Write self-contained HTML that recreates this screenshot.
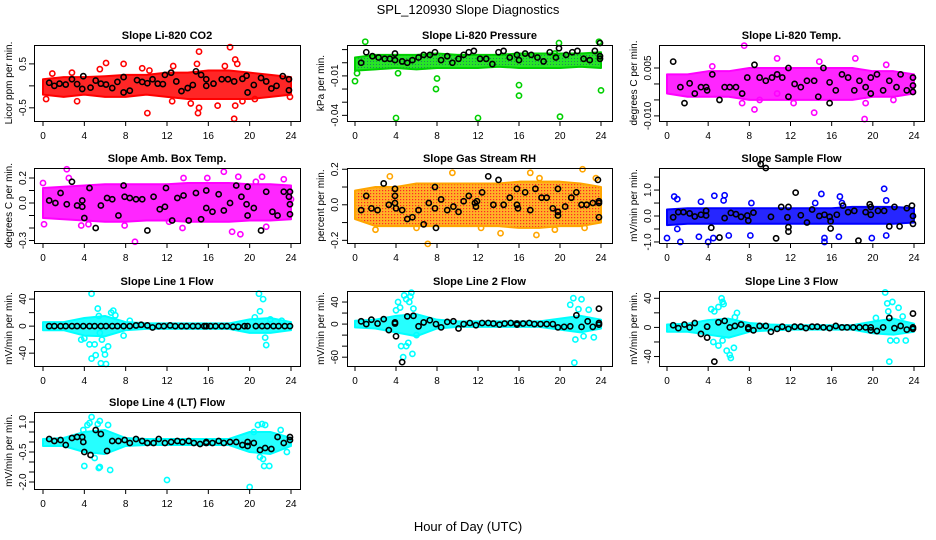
<!DOCTYPE html>
<html><head><meta charset="utf-8"><style>
html,body{margin:0;padding:0;background:#fff;}
svg{display:block;font-family:"Liberation Sans",Arial,sans-serif;}
</style></head><body>
<svg id="chart" width="936" height="540" viewBox="0 0 936 540" xmlns="http://www.w3.org/2000/svg">
<defs>
<pattern id="pGreen" width="3" height="3" patternUnits="userSpaceOnUse"><rect width="3" height="3" fill="#00e000"/><rect x="1" y="1" width="1" height="1" fill="#064"/></pattern>
<pattern id="pOrange" width="3" height="3" patternUnits="userSpaceOnUse"><rect width="3" height="3" fill="#ffa500"/><rect x="1" y="1" width="1.2" height="1.2" fill="#f00"/></pattern>
</defs>
<text x="468" y="14" text-anchor="middle" font-size="13">SPL_120930  Slope Diagnostics</text>
<text x="468" y="531" text-anchor="middle" font-size="13">Hour of Day (UTC)</text>
</svg>
<script>
const hours = [0,2,4,6,8,10,12,14,16,18,20,22,24];
const xTicks = [0,4,8,12,16,20,24];

const co2Hi = [0.15,0.2,0.2,0.22,0.25,0.25,0.3,0.3,0.35,0.35,0.3,0.25,0.2];
const co2Lo = [-0.2,-0.25,-0.2,-0.25,-0.25,-0.2,-0.25,-0.3,-0.3,-0.3,-0.3,-0.25,-0.2];
const co2Out = [[0.3,-0.3],[0.9,0.28],[2.8,0.3],[3.3,-0.35],[5.5,0.38],[6.1,0.52],[7.8,0.5],[9.6,0.4],[10.1,-0.62],[10.3,0.35],[12.6,0.45],[12.5,-0.35],[14.3,-0.4],[14.9,0.5],[15.1,0.78],[15,-0.62],[15.1,-0.5],[16.9,-0.45],[17.6,0.45],[18.1,0.88],[18.5,-0.75],[18.6,0.6],[18.8,0.5],[18.6,-0.45],[19.3,-0.35],[20.5,-0.3],[23.9,-0.25]];
const co2Blk = [[0.6,0.07],[1.1,0],[1.6,0.05],[2.2,0.03],[2.8,0.15],[3.3,0.04],[3.8,-0.07],[3.9,0.22],[4.6,-0.04],[5.1,0.12],[5.6,0.05],[6.1,0.03],[6.7,-0.05],[7.2,0.09],[7.8,-0.15],[7.8,0.2],[8.4,-0.11],[9.1,0.13],[9.6,0.09],[10.1,0.06],[10.6,0.15],[11.1,0.05],[11.6,0.04],[11.8,0.25],[12.4,0.3],[12.9,0.1],[13.4,-0.12],[14,-0.05],[14.5,0.02],[14.8,0.33],[15.3,0.25],[15.8,0.15],[15.8,0],[16.5,0.05],[17.3,0.15],[17.9,0.15],[18.5,0.1],[19.3,0.16],[19.7,0.23],[19.8,-0.15],[20.4,0.02],[21.1,0.18],[21.6,0.1],[22.1,-0.06],[22.6,0],[23.2,0.22],[23.8,0.15],[23.8,-0.1]];

const presHi = [0.004,0.006,0.006,0.006,0.007,0.006,0.006,0.006,0.007,0.007,0.007,0.007,0.008];
const presLo = [-0.006,-0.005,-0.004,-0.005,-0.004,-0.004,-0.004,-0.003,-0.004,-0.004,-0.004,-0.003,-0.004];
const presOut = [[0,-0.014],[0.2,-0.008],[1,0.016],[4,-0.042],[4.2,-0.008],[7.9,-0.02],[8,-0.012],[12,-0.042],[16,-0.017],[16,-0.025],[20,-0.041],[24,-0.021],[19.5,0.007],[19.9,0.015],[23.8,0.016]];
const presBlk = [[0.6,0],[1.1,0.008],[1.7,0.005],[2.3,0.004],[2.9,0.003],[3.4,0.003],[3.9,0.007],[3.9,0.002],[4.6,0.001],[5.1,0],[5.6,0.002],[6.2,0.004],[6.7,0.006],[7.3,0.006],[7.8,0.008],[8.4,0.002],[9,0.005],[9.5,0],[10.1,0.003],[10.6,0.006],[11.1,0.008],[11.6,0.009],[12.2,0.003],[12.8,0.003],[13.4,-0.001],[14,0.008],[14.5,0.009],[15.1,0.004],[15.8,0.006],[16,0.002],[16.6,0.007],[17.2,0.006],[17.8,0.004],[18.4,0.001],[19,0.008],[19.6,0.004],[19.9,0.011],[20.6,0.006],[21.2,0.008],[21.7,0.009],[22.3,0.003],[22.9,0.002],[23.4,0.009],[23.9,0.015],[23.9,0.005],[23.9,0.003]];

const tempHi = [0.003,0.003,0.004,0.004,0.005,0.005,0.005,0.005,0.005,0.005,0.004,0.004,0.003];
const tempLo = [-0.003,-0.004,-0.004,-0.004,-0.005,-0.005,-0.005,-0.005,-0.005,-0.005,-0.004,-0.004,-0.003];
const tempOut = [[7.5,0.012],[10.7,0.008],[14.8,0.007],[18.3,0.008],[21.3,0.006],[7.3,-0.006],[8.5,-0.008],[10.7,-0.003],[12.3,-0.006],[14.3,-0.009],[19.2,-0.011],[19.3,-0.006],[4.4,0.0055],[22,-0.005],[9,-0.005]];
const tempBlk = [[0.6,0.007],[1.3,-0.001],[1.7,-0.006],[2.2,0.0002],[2.7,-0.003],[3.3,-0.001],[3.8,-0.001],[3.9,-0.002],[4.4,0.003],[5.1,-0.005],[5.6,-0.001],[6.1,-0.001],[6.7,-0.001],[7.3,-0.003],[7.8,0.002],[8.5,0.006],[9,0.002],[9.6,0.001],[10.2,0.002],[10.7,0.003],[11.2,0.002],[11.8,0.005],[11.8,-0.004],[12.4,0],[13,-0.001],[13.6,0.001],[14.3,0.001],[14.7,-0.004],[15.2,0.005],[15.8,0.0005],[15.8,-0.006],[16.4,-0.002],[17,0.003],[17.6,0.002],[18.2,-0.002],[18.7,0.001],[19.3,-0.001],[19.8,0.002],[19.8,-0.003],[20.4,0.003],[21,-0.002],[21.6,0.001],[22.3,-0.001],[22.7,0.003],[23.3,-0.002],[23.9,0.002],[23.9,-0.0005],[23.9,-0.0025]];

const ambHi = [0.12,0.13,0.14,0.15,0.15,0.15,0.15,0.16,0.16,0.16,0.15,0.15,0.14];
const ambLo = [-0.12,-0.13,-0.14,-0.15,-0.15,-0.14,-0.14,-0.15,-0.15,-0.15,-0.14,-0.14,-0.13];
const ambOut = [[0,0.16],[0.1,-0.17],[2.3,0.27],[2.5,0.2],[3.7,-0.18],[8.9,-0.31],[12.2,-0.15],[13.5,-0.2],[13.6,0.2],[15.9,0.2],[17.5,0.25],[18.9,0.21],[18.3,-0.23],[19.1,-0.25],[20.6,0.17],[21.2,0.21],[21.6,-0.19],[23.3,0.19],[24,0.03],[4.4,-0.17],[7.9,-0.18]];
const ambBlk = [[0.6,0.02],[1.2,0],[1.7,0.08],[2.3,-0.01],[2.8,0.17],[3.3,-0.02],[3.8,0.02],[3.8,-0.03],[4,-0.12],[4.5,0.12],[5.1,-0.2],[5.6,-0.02],[6.2,0.04],[6.7,0.03],[7.3,-0.1],[7.8,0.14],[7.9,0.05],[8.4,0.04],[9,0.03],[9.6,0.03],[10.1,-0.22],[10.7,0.05],[11.3,-0.05],[11.8,-0.03],[11.9,0.12],[12.5,-0.14],[13,0.04],[13.6,0.06],[14.1,-0.14],[14.8,0.08],[15.3,-0.13],[15.8,0.1],[15.8,-0.04],[16.4,-0.07],[17,0.07],[17.5,-0.06],[18.1,0],[18.7,0.14],[19.2,0.05],[19.7,-0.01],[19.8,0.13],[19.8,-0.1],[20.4,-0.04],[21.1,-0.22],[21.6,0.09],[22.2,-0.07],[22.7,-0.1],[23.3,0.09],[23.9,0.09],[23.8,0.05],[23.9,-0.01],[23.9,-0.09]];

const rhHi = [0.08,0.1,0.1,0.12,0.12,0.12,0.12,0.12,0.13,0.13,0.13,0.12,0.1];
const rhLo = [-0.08,-0.12,-0.12,-0.12,-0.12,-0.12,-0.12,-0.12,-0.13,-0.13,-0.12,-0.12,-0.1];
const rhOut = [[3.4,0.16],[7.1,-0.22],[2,-0.14],[6,-0.13],[9.5,0.18],[14.2,-0.16],[17.7,-0.17],[19.5,-0.14],[22.2,0.2],[22.4,-0.13],[17.1,0.18],[18,0.15],[12.3,-0.13],[23.5,0.15]];
const rhBlk = [[0.6,-0.03],[1.1,0.05],[1.6,-0.02],[2.2,-0.03],[2.8,0.12],[3.3,0],[3.9,0.09],[3.9,0.05],[3.9,0.01],[4,-0.02],[4.6,-0.03],[5.1,-0.08],[5.6,-0.07],[6.2,-0.03],[6.7,-0.11],[7.2,0.01],[7.8,0.1],[7.9,-0.13],[7.8,-0.02],[8.4,0.03],[9,-0.03],[9.6,-0.01],[10.1,-0.04],[10.6,0.02],[11.1,0.05],[11.7,0.01],[11.8,-0.01],[11.9,0.02],[12.4,0.07],[13,0.16],[13.5,0],[14,0.14],[14.5,0],[15.1,0.04],[15.8,0.09],[15.8,0],[15.9,-0.02],[16.6,0.07],[17.1,-0.03],[17.6,0.09],[18.2,0.04],[18.7,0.04],[19.3,-0.02],[19.8,0.09],[19.8,-0.04],[19.8,-0.06],[20.5,-0.01],[21.1,0.04],[21.6,0.07],[22.1,0],[22.6,0],[23.2,0.01],[23.7,0.14],[23.8,-0.07],[23.8,0.01],[23.8,0.02]];

const sfHi = [0.25,0.3,0.3,0.3,0.3,0.3,0.3,0.3,0.3,0.35,0.35,0.35,0.3];
const sfLo = [-0.35,-0.3,-0.3,-0.3,-0.3,-0.3,-0.3,-0.3,-0.3,-0.3,-0.3,-0.3,-0.25];
const sfOut = [[0,-0.85],[0.7,0.75],[1,0.65],[1,-0.5],[1.3,-1.0],[3.3,0.55],[3.1,-0.8],[4,-1.0],[4.5,-0.85],[4.6,0.78],[5.5,0.6],[5.6,0.8],[6,-0.75],[8.1,-0.75],[8.2,0.5],[14.4,0.5],[15,0.85],[15.3,-1.0],[15.3,-0.85],[16.8,0.75],[16.7,-0.8],[19.9,-0.85],[21.1,1.05],[21.3,0.6],[21.3,-0.75],[17,0.5]];
const sfBlk = [[0.6,-0.05],[1.1,0.15],[1.6,0.15],[2.2,0.1],[2.7,-0.02],[3.3,0.05],[3.8,0.2],[3.8,0.02],[4.3,-0.45],[5.1,-0.83],[5.6,-0.08],[6.2,0.12],[6.7,0.07],[7.2,-0.03],[7.8,0.02],[7.9,-0.18],[8.4,0.13],[9.1,2.0],[9.6,1.85],[10.1,-0.03],[10.6,-0.86],[11.1,0.35],[11.7,-0.05],[11.8,-0.43],[11.8,-0.6],[11.8,0.35],[12.5,0.9],[13,0.03],[13.6,-0.25],[14.1,0.25],[14.8,0],[15.3,0.05],[15.8,-0.03],[15.9,-0.48],[15.9,-0.2],[16.5,0.05],[17.1,0.4],[17.6,0.15],[18.2,0.2],[18.6,-0.95],[19.3,0.15],[19.7,0.45],[19.8,0.35],[19.8,0.05],[20.5,0.2],[21.1,0.2],[21.6,-0.4],[22.1,0.35],[22.6,-0.4],[23.3,0.3],[23.8,0.4],[23.9,0],[23.9,-0.3]];

const l1Hi = [6,6,12,15,6,4,4,4,4,4,10,12,6];
const l1Lo = [-6,-6,-14,-15,-6,-4,-4,-4,-4,-4,-10,-10,-6];
const l1Out = [[4.7,48],[3.7,-20],[4,-18],[4.5,-27],[4.7,-48],[5,-27],[5.1,-43],[5.3,26],[5.4,15],[5.6,-55],[5.7,-20],[5.9,-35],[6,-42],[6.1,-56],[6.3,-30],[6.6,20],[6.8,23],[7,16],[5.5,-10],[20.9,48],[21.3,40],[21,22],[21.5,-17],[21.6,-28],[20.5,13],[22,10],[23.1,8],[8.4,8],[7.8,-14]];
const l1Blk = [[0.6,0],[1.1,0],[1.7,0],[2.2,0],[2.8,0],[3.3,0],[3.9,0],[4.5,0],[5,0],[5.6,0],[6.1,0],[6.7,0],[7.2,0],[7.8,0],[8.4,0],[9,1],[9.5,2],[10.1,1],[10.6,-2],[11.2,0],[11.7,0],[12.3,1],[12.8,0],[13.4,0],[13.9,0],[14.5,0],[15,0],[15.6,0],[15.8,0],[16.2,0],[16.7,0],[17.3,0],[17.8,0],[18.4,-1],[18.9,-1],[19.5,0],[19.8,0],[20.6,0],[21.2,0],[21.7,0],[22.3,0],[22.8,0],[23.4,0],[23.9,0]];

const l2Hi = [6,8,15,18,8,5,5,5,5,5,10,15,8];
const l2Lo = [-6,-8,-15,-22,-8,-5,-5,-5,-5,-5,-10,-15,-8];
const l2Out = [[4,25],[4.2,40],[4.4,30],[4.8,52],[5,45],[5.3,40],[5.4,50],[5.5,57],[5.7,28],[4.5,-40],[4.7,-60],[5,-40],[5.2,-34],[5.6,-54],[6,-20],[21,35],[21.3,47],[21.5,-28],[21.4,-70],[21.8,27],[22.1,45],[22.3,-22],[22.8,26],[23.3,-24],[20.6,-5]];
const l2Blk = [[0.6,5],[1.1,0],[1.6,8],[2.2,1],[2.8,9],[3.3,-11],[3.9,3],[3.9,1],[4,-22],[4.6,-69],[5.1,14],[5.7,15],[6.2,-4],[6.7,3],[7.3,7],[7.9,0],[8.4,-6],[9,4],[9.6,5],[10.1,-8],[10.6,0],[11.2,2],[11.8,-2],[12.4,2],[13,2],[13.5,1],[14.1,-1],[14.6,1],[15.2,2],[15.8,1],[15.8,-1],[16.4,1],[17,2],[17.5,0],[18.1,0],[18.7,0],[19.3,0],[19.8,-6],[20.4,-5],[21,-4],[21.6,16],[22.1,-5],[22.7,5],[23.2,-5],[23.8,28],[23.8,2],[23.8,-1]];

const l3Hi = [4,5,10,12,6,4,3,3,3,3,8,12,5];
const l3Lo = [-6,-6,-10,-14,-6,-4,-3,-3,-3,-3,-8,-10,-6];
const l3Out = [[4.3,25],[4.6,22],[5,28],[5.3,40],[5.4,35],[5.5,32],[4.5,-20],[5,-25],[5.4,-18],[5.8,-32],[6.1,-38],[6.2,-42],[6.5,-28],[6.8,20],[6.6,14],[21.2,48],[21.4,33],[21.5,22],[21.9,35],[22.5,27],[22.3,-18],[21.7,-18],[21.6,-47],[23.2,-18],[20.3,13],[22.9,15]];
const l3Blk = [[0.6,3],[1.1,-1],[1.7,4],[2.2,0],[2.7,6],[3.3,-9],[3.9,1],[3.9,-14],[4.6,-47],[5,7],[5.6,9],[6.1,0],[6.6,2],[7.2,4],[7.9,0],[7.9,-2],[8.4,-4],[9,2],[9.6,2],[10.1,-6],[10.7,-2],[11.2,1],[11.8,-2],[12.4,1],[13,1],[13.5,-1],[14.1,1],[14.6,1],[15.2,0],[15.8,-1],[16.4,2],[17,0],[17.5,0],[18.1,0],[18.7,0],[19.3,0],[19.8,-4],[19.8,0],[20.4,-5],[21,0],[21.6,13],[22.1,-1],[22.7,2],[23.3,-3],[23.9,19],[23.9,-2],[23.9,0]];

const l4Hi = [0.15,0.2,0.5,0.6,0.2,0.15,0.15,0.15,0.15,0.15,0.5,0.5,0.2];
const l4Lo = [-0.2,-0.2,-0.5,-0.6,-0.2,-0.15,-0.15,-0.15,-0.15,-0.15,-0.5,-0.6,-0.2];
const l4Out = [[4.3,0.85],[4.5,0.95],[4.7,1.25],[5.5,1.05],[5.3,0.9],[6.3,0.85],[3.9,0.6],[4,-1.2],[5,-0.8],[5.4,-1.3],[5.5,-1.25],[6.5,-1.4],[12,-1.9],[20,-2.25],[20.8,0.85],[21.2,0.9],[21.5,0.85],[21,-0.75],[21.4,-1.2],[21.3,-0.85],[21.9,-1.2],[23,0.6],[23.6,-0.5],[20.4,0.5]];
const l4Blk = [[0.6,0.15],[1.1,0.05],[1.7,0.1],[2.2,-0.15],[2.8,0.2],[3.3,0.25],[3.8,0.25],[3.9,0],[4,-0.5],[4.6,-0.65],[5.1,0.6],[5.6,0.4],[6.2,-0.45],[6.7,0.05],[7.3,0.05],[7.9,0.1],[8.4,-0.05],[9,0.15],[9.6,0.05],[10.1,-0.05],[10.7,-0.05],[11.2,0.15],[11.8,-0.05],[12.4,0],[13,0.05],[13.5,0],[14.1,0.05],[14.6,-0.05],[15.2,-0.1],[15.8,0],[15.8,-0.05],[16.4,-0.05],[17,0.05],[17.5,-0.05],[18.1,0],[18.7,0],[19.3,-0.15],[19.8,0],[19.8,-0.2],[20.4,-0.05],[21,-0.4],[21.5,-0.3],[22.1,-0.35],[22.7,0.25],[23.3,-0.05],[23.9,0.25],[23.9,0.1]];

const co2YTicks = [-0.5,0,0.5], co2YLabels = ["-0.5","","0.5"];
const presYTicks = [0.01,0,-0.01,-0.02,-0.03,-0.04], presYLabels = ["","","-0.01","","","-0.04"];
const tempYTicks = [0.005,0,-0.005,-0.01], tempYLabels = ["0.005","","","-0.010"];
const ambYTicks = [0.2,0.1,0,-0.1,-0.2,-0.3], ambYLabels = ["0.2","","0.0","","","-0.3"];
const rhYTicks = [0.2,0.1,0,-0.1,-0.2], rhYLabels = ["0.2","","0.0","","-0.2"];
const sfYTicks = [1.5,1,0.5,0,-0.5,-1], sfYLabels = ["","1.0","","0.0","","-1.0"];
const l1YTicks = [40,20,0,-20,-40], l1YLabels = ["40","","0","","-40"];
const l2YTicks = [40,20,0,-20,-40,-60], l2YLabels = ["40","","0","","","-60"];
const l3YTicks = [40,20,0,-20,-40], l3YLabels = ["40","","0","","-40"];
const l4YTicks = [1,0.5,0,-0.5,-1,-1.5,-2], l4YLabels = ["1.0","","","-0.5","","","-2.0"];

const NS = "http://www.w3.org/2000/svg";
const svg = document.getElementById("chart");
function mk(tag, attrs, parent){ const e=document.createElementNS(NS,tag); for(const k in attrs) e.setAttribute(k,attrs[k]); (parent||svg).appendChild(e); return e; }

const cols = [{l:34,r:300,x0:43,x24:291,lab:22,tit:8},{l:347,r:612,x0:355,x24:601,lab:334,tit:320},{l:659,r:924,x0:667,x24:914,lab:647,tit:633}];
const rows = [{t:45,b:121},{t:168,b:243},{t:291,b:366},{t:412,b:489}];

const panels = [
 {key:"co2",title:"Slope Li-820 CO2",ylab:"Licor ppm per min.",c:0,r:0,ymin:-0.8,ymax:0.93,col:"#ff0000",fill:"#ff0000",hi:co2Hi,lo:co2Lo,out:co2Out,blk:co2Blk,yt:co2YTicks,yl:co2YLabels},
 {key:"pressure",title:"Slope Li-820 Pressure",ylab:"kPa per min.",c:1,r:0,ymin:-0.0443,ymax:0.0135,col:"#00d000",fill:"url(#pGreen)",hi:presHi,lo:presLo,out:presOut,blk:presBlk,yt:presYTicks,yl:presYLabels},
 {key:"temp",title:"Slope Li-820 Temp.",ylab:"degrees C per min.",c:2,r:0,ymin:-0.0116,ymax:0.0122,col:"#ff00ff",fill:"#ff00ff",hi:tempHi,lo:tempLo,out:tempOut,blk:tempBlk,yt:tempYTicks,yl:tempYLabels},
 {key:"amb-box",title:"Slope Amb. Box Temp.",ylab:"degrees C per min.",c:0,r:1,ymin:-0.32,ymax:0.28,col:"#ff00ff",fill:"#ff00ff",hi:ambHi,lo:ambLo,out:ambOut,blk:ambBlk,yt:ambYTicks,yl:ambYLabels},
 {key:"rh",title:"Slope Gas Stream RH",ylab:"percent per min.",c:1,r:1,ymin:-0.215,ymax:0.207,col:"#ffa500",fill:"url(#pOrange)",hi:rhHi,lo:rhLo,out:rhOut,blk:rhBlk,yt:rhYTicks,yl:rhYLabels},
 {key:"sample-flow",title:"Slope Sample Flow",ylab:"mV/min per min.",c:2,r:1,ymin:-1.04,ymax:1.85,col:"#0000ff",fill:"#0000ff",hi:sfHi,lo:sfLo,out:sfOut,blk:sfBlk,yt:sfYTicks,yl:sfYLabels},
 {key:"line1",title:"Slope Line 1 Flow",ylab:"mV/min per min.",c:0,r:2,ymin:-59,ymax:52,col:"#00ffff",fill:"#00ffff",hi:l1Hi,lo:l1Lo,out:l1Out,blk:l1Blk,yt:l1YTicks,yl:l1YLabels},
 {key:"line2",title:"Slope Line 2 Flow",ylab:"mV/min per min.",c:1,r:2,ymin:-76,ymax:60,col:"#00ffff",fill:"#00ffff",hi:l2Hi,lo:l2Lo,out:l2Out,blk:l2Blk,yt:l2YTicks,yl:l2YLabels},
 {key:"line3",title:"Slope Line 3 Flow",ylab:"mV/min per min.",c:2,r:2,ymin:-53,ymax:50,col:"#00ffff",fill:"#00ffff",hi:l3Hi,lo:l3Lo,out:l3Out,blk:l3Blk,yt:l3YTicks,yl:l3YLabels},
 {key:"line4",title:"Slope Line 4 (LT) Flow",ylab:"mV/min per min.",c:0,r:3,ymin:-2.35,ymax:1.5,col:"#00ffff",fill:"#00ffff",hi:l4Hi,lo:l4Lo,out:l4Out,blk:l4Blk,yt:l4YTicks,yl:l4YLabels}
];

panels.forEach(p=>{
  const C=cols[p.c], R=rows[p.r];
  const g=mk("g",{});
  
  
  const xs=h=>C.x0+(C.x24-C.x0)*h/24;
  const ys=v=>R.b-(R.b-R.t)*(v-p.ymin)/(p.ymax-p.ymin);
  const cx=(C.l+C.r)/2;
  const t=mk("text",{x:cx,y:R.t-6,"text-anchor":"middle","font-size":"11","font-weight":"bold"},g); t.textContent=p.title;
  
  
  const yt=mk("text",{x:0,y:0,"text-anchor":"middle","font-size":"10",transform:`translate(${C.tit+4},${(R.t+R.b)/2}) rotate(-90)`},g); yt.textContent=p.ylab;
  
  
  let pts=hours.map((h,i)=>xs(h)+","+ys(p.hi[i]));
  pts=pts.concat(hours.slice().reverse().map((h,j)=>{const i=hours.length-1-j; return xs(h)+","+ys(p.lo[i]);}));
  const band=mk("polygon",{points:pts.join(" "),fill:p.fill,"fill-opacity":"0.85",stroke:p.col,"stroke-width":"2","stroke-linejoin":"round"},g);
  
  
  p.out.forEach(d=>{
    const c=mk("circle",{cx:xs(d[0]),cy:ys(d[1]),r:2.6,fill:"none",stroke:p.col,"stroke-width":"1.6"},g);
    
    
  });
  p.blk.forEach(d=>{
    const c=mk("circle",{cx:xs(d[0]),cy:ys(d[1]),r:2.6,fill:"none",stroke:"#000","stroke-width":"1.6"},g);
    
    
  });
  const box=mk("rect",{x:C.l+0.5,y:R.t+0.5,width:C.r-C.l,height:R.b-R.t,fill:"none",stroke:"#000","stroke-width":"1"},g);
  
  
  xTicks.forEach(h=>{
    mk("line",{x1:xs(h),x2:xs(h),y1:R.b,y2:R.b+5,stroke:"#000"},g);
    const tl=mk("text",{x:xs(h),y:R.b+18,"text-anchor":"middle","font-size":"10"},g); tl.textContent=h;
    
    
  });
  p.yt.forEach((v,i)=>{
    const y=ys(v);
    mk("line",{x1:C.l-5,x2:C.l,y1:y,y2:y,stroke:"#000"},g);
    if(p.yl[i]){
      const tl=mk("text",{x:0,y:0,"text-anchor":"middle","font-size":"10",transform:`translate(${C.lab+4},${y}) rotate(-90)`},g); tl.textContent=p.yl[i];
      
      
    }
  });
});
</script>
</body></html>
